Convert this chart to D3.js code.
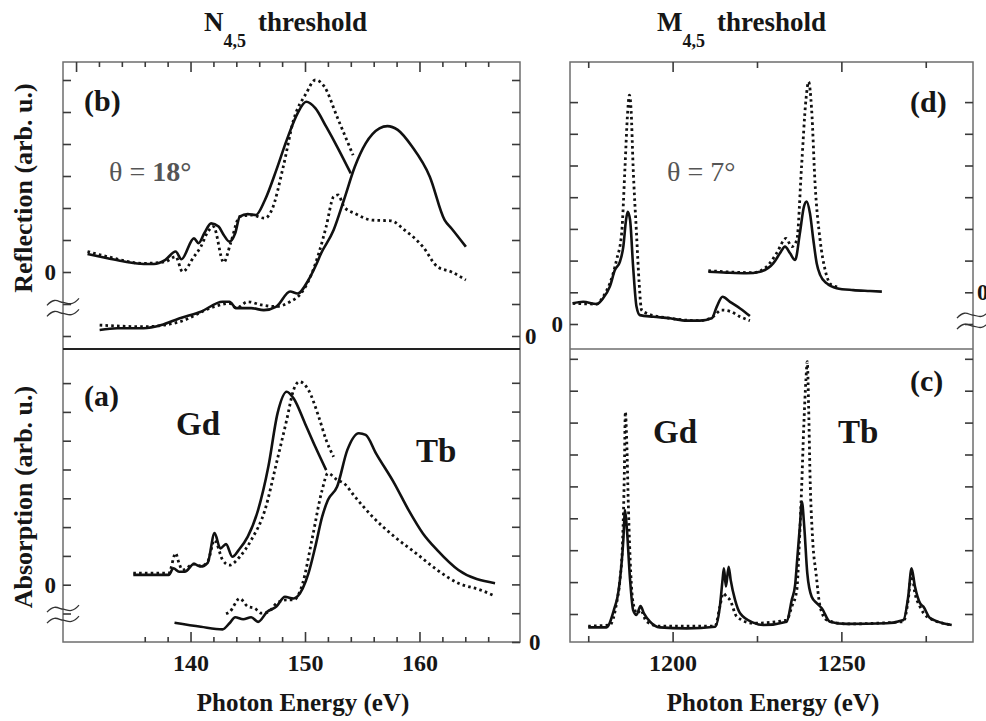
<!DOCTYPE html>
<meta charset="utf-8">
<style>
  body { margin: 0; background: #fff; }
  svg text { font-family: "Liberation Serif", "Times New Roman", serif; font-weight: bold; fill: #161616; }
  .frame { fill: none; stroke: #6e6e6e; stroke-width: 1.5; }
  .axis path { display: none; }
  .axis line { stroke: #3a3a3a; stroke-width: 1.6; }
  .axis text { font-size: 23px; }
  .xlab text { font-size: 24px; }
  .solid { fill: none; stroke: #111; stroke-width: 2.6; stroke-linejoin: round; }
  .dotted { fill: none; stroke: #111; stroke-width: 2.8; stroke-dasharray: 2.6 3.2; }
  .wave { fill: none; stroke: #333; stroke-width: 1.3; }
</style>

<body>
  <!-- load the d3.js library -->
  <script src="https://d3js.org/d3.v7.min.js"></script>
  <script>

    // ---- data: [photon energy (eV), intensity (arb. u.)] ----

    // (b) reflection, N4,5 edge, Gd on left axis, Tb on right axis
    var bGdSolid = [[131.0,0.56],[132.75,0.43],[134.3,0.32],[135.9,0.25],[136.8,0.25],[137.8,0.38],[138.7,0.64],[139.2,0.40],[140.3,1.05],[140.7,0.90],[141.2,1.21],[141.8,1.52],[142.45,1.42],[142.9,1.16],[143.4,0.95],[143.9,1.21],[144.3,1.73],[145.0,1.81],[145.7,1.78],[146.5,2.25],[147.5,3.19],[148.4,4.12],[149.35,4.96],[150.1,5.32],[150.9,5.12],[151.85,4.54],[152.8,3.92],[154.0,3.08]];
    var bGdDotted = [[131.0,0.64],[132.75,0.48],[135.9,0.27],[137.8,0.32],[138.7,0.48],[139.3,0.01],[140.3,0.48],[140.9,0.79],[141.5,1.25],[142.0,1.42],[142.9,0.30],[143.5,0.90],[144.3,1.73],[145.3,1.78],[146.5,1.68],[147.1,1.94],[148.1,3.29],[149.0,4.75],[150.1,5.58],[150.9,6.0],[151.7,5.79],[152.8,4.85],[154.2,3.65]];
    var bTbSolid = [[132.06,0.19],[133.6,0.24],[135.9,0.24],[137.45,0.34],[139.0,0.55],[140.9,0.76],[142.8,1.07],[143.4,1.07],[144.0,0.87],[145.3,0.87],[146.4,0.81],[147.5,0.92],[148.7,1.39],[149.35,1.33],[150.3,1.75],[150.9,2.17],[151.4,2.58],[152.5,3.31],[153.4,4.25],[154.35,5.29],[155.3,6.02],[156.5,6.49],[157.2,6.56],[158.1,6.44],[159.35,5.92],[160.9,4.98],[162.2,3.62],[162.8,3.36],[164.05,2.79]];
    var bTbDotted = [[132.06,0.34],[135.9,0.29],[139.0,0.44],[142.1,0.92],[143.4,1.02],[144.0,0.87],[145.0,1.07],[146.2,0.97],[147.5,0.92],[148.7,1.07],[149.65,1.33],[150.6,1.96],[151.2,2.58],[151.85,3.42],[152.5,4.35],[152.9,4.41],[153.4,4.04],[154.35,3.83],[155.9,3.62],[157.5,3.6],[158.7,3.31],[160.3,2.79],[161.55,2.17],[162.8,2.0],[164.05,1.75]];

    // (a) absorption, N4,5 edge
    var aGdSolid = [[135.0,0.34],[138.1,0.34],[138.5,0.57],[139.0,0.45],[139.5,0.45],[140.3,0.72],[140.9,0.63],[141.5,0.76],[142.1,1.79],[142.6,1.26],[143.1,1.41],[143.65,0.97],[144.2,1.2],[145.0,1.67],[145.9,2.59],[146.8,4.1],[147.6,5.95],[148.4,6.7],[149.0,6.47],[150.0,5.6],[150.9,4.79],[151.85,3.98]];
    var aGdDotted = [[135.0,0.40],[138.1,0.40],[138.7,1.09],[139.0,0.74],[139.3,0.51],[140.3,0.72],[140.9,0.65],[141.5,0.80],[142.1,1.55],[142.8,0.86],[143.4,0.68],[144.3,0.97],[145.3,1.55],[146.5,2.59],[147.5,4.21],[148.4,5.72],[149.0,6.76],[149.5,7.05],[150.3,6.76],[151.2,5.83],[151.85,5.02],[152.5,4.44]];
    var aTbSolid = [[138.6,0.67],[140.9,0.53],[142.8,0.44],[143.4,0.65],[143.9,0.86],[144.6,0.79],[145.3,0.86],[145.9,0.70],[146.7,1.05],[147.5,1.23],[148.25,1.57],[149.0,1.51],[149.8,1.86],[150.3,2.38],[150.9,3.31],[151.5,4.35],[152.0,4.93],[152.8,5.39],[153.7,6.67],[154.7,7.25],[155.3,7.19],[156.2,6.55],[157.8,5.51],[159.05,4.58],[160.3,3.77],[161.55,3.19],[163.4,2.5],[166.6,2.04]];
    var aTbDotted = [[143.1,0.98],[143.4,1.04],[144.3,1.51],[145.0,1.23],[145.6,1.17],[146.2,1.0],[146.8,1.04],[147.5,1.34],[148.4,1.46],[149.0,1.46],[149.8,2.04],[150.6,3.54],[151.5,5.28],[152.0,5.86],[152.8,5.63],[153.4,5.51],[154.35,5.05],[155.9,4.35],[157.8,3.66],[159.7,3.08],[161.55,2.5],[163.4,2.04],[165.3,1.81],[166.4,1.63]];

    // (d) reflection, M4,5 edge
    var dGdSolid = [[1170.4,0.65],[1173.5,0.70],[1177.5,0.63],[1179.4,0.81],[1181.4,1.18],[1182.9,1.70],[1184.4,1.97],[1185.4,2.44],[1186.2,3.28],[1186.7,3.54],[1187.4,3.28],[1188.3,1.81],[1189.3,0.55],[1190.3,0.28],[1194.3,0.23],[1199.2,0.18],[1204.2,0.105],[1208.1,0.105],[1211.6,0.18],[1213.1,0.55],[1214.8,0.86],[1217.0,0.70],[1220.0,0.49],[1222.9,0.25]];
    var dGdDotted = [[1170.4,0.65],[1177.5,0.63],[1179.4,0.86],[1181.4,1.28],[1183.4,2.02],[1184.9,2.86],[1185.9,4.96],[1186.6,6.54],[1187.2,7.22],[1187.7,6.75],[1188.3,4.96],[1189.3,2.86],[1190.1,1.28],[1190.8,0.44],[1192.3,0.34],[1199.2,0.18],[1208.1,0.105],[1212.0,0.23],[1214.5,0.44],[1217.0,0.40],[1220.0,0.23],[1222.9,0.105]];
    var dTbSolid = [[1210.6,0.65],[1216.0,0.62],[1221.9,0.60],[1225.9,0.65],[1229.8,0.91],[1231.8,1.23],[1233.3,1.44],[1234.8,1.23],[1236.3,1.02],[1237.7,1.86],[1238.9,2.70],[1239.7,2.86],[1240.7,2.49],[1241.7,1.65],[1242.7,0.91],[1243.7,0.55],[1245.7,0.28],[1248.6,0.13],[1253.5,0.07],[1258.5,0.04],[1262.0,0.02]];
    var dTbDotted = [[1210.6,0.68],[1223.9,0.62],[1227.9,0.81],[1230.8,1.23],[1233.6,1.70],[1235.3,1.44],[1236.8,1.65],[1238.2,3.96],[1239.5,6.07],[1240.3,6.64],[1241.2,5.75],[1242.2,3.44],[1243.7,1.65],[1245.2,0.70],[1247.1,0.23],[1249.6,0.16]];

    // (c) absorption, M4,5 edge
    var cSolid = [[1175.0,-0.42],[1180.4,-0.42],[1182.9,0.23],[1183.6,0.49],[1184.4,1.07],[1185.4,2.32],[1185.9,3.26],[1186.4,2.74],[1187.4,1.07],[1188.3,0.125],[1189.3,-0.03],[1190.5,0.25],[1191.5,0.02],[1193.3,-0.24],[1196.2,-0.42],[1204.2,-0.45],[1212.6,-0.40],[1214.0,0.23],[1214.8,1.07],[1215.2,1.43],[1215.8,0.86],[1216.6,1.48],[1217.2,1.07],[1218.5,0.44],[1220.0,0.02],[1223.9,-0.27],[1226.9,-0.345],[1233.8,-0.24],[1235.3,0.44],[1236.3,0.91],[1236.9,1.69],[1237.7,2.74],[1238.3,3.52],[1239.0,2.74],[1239.9,1.28],[1241.2,0.54],[1242.7,0.34],[1244.2,0.18],[1246.6,-0.24],[1251.6,-0.31],[1263.4,-0.29],[1268.4,-0.19],[1269.8,0.54],[1270.8,1.43],[1271.8,0.86],[1273.3,0.34],[1274.3,0.23],[1276.3,-0.13],[1282.7,-0.345]];
    var cDotted = [[1175.0,-0.38],[1181.4,-0.345],[1183.4,0.34],[1184.4,1.07],[1185.2,2.32],[1185.7,4.41],[1186.0,6.34],[1186.4,5.45],[1186.9,3.36],[1187.6,1.28],[1188.3,0.34],[1189.5,0.02],[1190.5,0.125],[1192.3,-0.24],[1196.2,-0.38],[1212.6,-0.38],[1214.0,0.23],[1215.0,0.65],[1216.0,0.54],[1217.0,0.44],[1219.0,-0.08],[1223.9,-0.29],[1233.8,-0.19],[1235.3,0.23],[1236.8,0.75],[1237.5,2.11],[1238.2,3.89],[1238.9,5.98],[1239.5,7.34],[1239.9,7.91],[1240.3,6.5],[1240.7,4.41],[1241.5,2.32],[1242.5,1.27],[1243.7,0.23],[1245.7,-0.19],[1251.6,-0.31],[1268.4,-0.24],[1269.8,0.44],[1270.8,1.28],[1271.8,0.65],[1273.3,0.23],[1275.3,-0.08],[1282.7,-0.345]];

    // ticks
    var nMinorBottom = [136,138,142,144,146,148,152,154,156,158,162,164,166];
    var nMinorTop = [132,134,136,138,142,144,146,148,152,154,156,158,162,164,166];
    var nMajorBottom = [140,150,160];
    var nMajorTop = [130,140,150,160];
    var mMinor = [1175,1225,1275];
    var mMajor = [1200,1250];

    // ---- layout ----
    var W = 986, H = 721;
    var yTop = 62, yMid = 349, yBot = 642;
    var nLeft = 63, nRight = 520, mLeft = 570, mRight = 973;

    var svg = d3.select("body").append("svg")
      .attr("width", W)
      .attr("height", H);

    // x scales
    var xN = d3.scaleLinear().domain([128.86, 168.78]).range([nLeft, nRight]);
    var xM = d3.scaleLinear().domain([1169.6, 1289.0]).range([mLeft, mRight]);

    // y scale with its zero at pixel zeroPx and `unit` pixels per tick
    function yScale(zeroPx, unit, y0, y1) {
      return d3.scaleLinear()
        .domain([(zeroPx - y0) / unit, (zeroPx - y1) / unit])
        .range([y0, y1]);
    }
    var yBgd = yScale(272, 32, yMid, yTop);
    var yBtb = yScale(336, 32, yMid, yTop);
    var yAgd = yScale(584.7, 28.8, yBot, yMid);
    var yAtb = yScale(642, 28.8, yBot, yMid);
    var yDgd = yScale(324, 31.7, yMid, yTop);
    var yDtb = yScale(292.3, 31.7, yMid, yTop);
    var yC = yScale(614, 31.9, yBot, yMid);

    // frames
    svg.append("rect").attr("class", "frame")
      .attr("x", nLeft).attr("y", yTop).attr("width", nRight - nLeft).attr("height", yBot - yTop);
    svg.append("rect").attr("class", "frame")
      .attr("x", mLeft).attr("y", yTop).attr("width", mRight - mLeft).attr("height", yBot - yTop);
    svg.append("line").attr("x1", nLeft).attr("x2", nRight).attr("y1", yMid).attr("y2", yMid)
      .attr("stroke", "#222").attr("stroke-width", 2.2);
    svg.append("line").attr("x1", mLeft).attr("x2", mRight).attr("y1", yMid).attr("y2", yMid)
      .attr("stroke", "#6e6e6e").attr("stroke-width", 1.5);

    // y axes: inward ticks, only the zero labelled
    function yAxis(scale, side, x, ticks, pad, showZero) {
      var ax = (side === "left" ? d3.axisLeft(scale) : d3.axisRight(scale))
        .tickValues(ticks)
        .tickSizeInner(-8)
        .tickSizeOuter(0)
        .tickPadding(pad)
        .tickFormat(function (d) { return (showZero && d === 0) ? "0" : ""; });
      svg.append("g").attr("class", "axis")
        .attr("transform", "translate(" + x + ",0)")
        .call(ax);
    }
    yAxis(yBgd, "left", nLeft, d3.range(-2, 7), 7, true);
    yAxis(yBtb, "right", nRight, d3.range(0, 9), 5, true);
    yAxis(yAgd, "left", nLeft, d3.range(-1, 8), 7, true);
    yAxis(yAtb, "right", nRight, d3.range(0, 10), 9, true);
    yAxis(yDgd, "left", mLeft, d3.range(0, 8), 7, true);
    yAxis(yDtb, "right", mRight, d3.range(-1, 7), 4, true);
    yAxis(yC, "left", mLeft, d3.range(0, 9), 7, false);
    yAxis(yC, "right", mRight, d3.range(0, 9), 7, false);

    // x axes
    function xAxis(scale, where, y, ticks, len, labels) {
      var ax = (where === "bottom" ? d3.axisBottom(scale) : d3.axisTop(scale))
        .tickValues(ticks)
        .tickSizeInner(-len)
        .tickSizeOuter(0)
        .tickPadding(12)
        .tickFormat(labels ? d3.format("d") : function () { return ""; });
      svg.append("g").attr("class", "axis xlab")
        .attr("transform", "translate(0," + y + ")")
        .call(ax);
    }
    xAxis(xN, "bottom", yBot, nMinorBottom, 5, false);
    xAxis(xN, "bottom", yBot, nMajorBottom, 10, true);
    xAxis(xN, "top", yTop, nMinorTop, 5, false);
    xAxis(xN, "top", yTop, nMajorTop, 10, false);
    xAxis(xM, "bottom", yBot, mMinor, 6, false);
    xAxis(xM, "bottom", yBot, mMajor, 10, true);
    xAxis(xM, "top", yTop, mMinor, 6, false);
    xAxis(xM, "top", yTop, mMajor, 10, false);

    // curves
    function curve(data, x, y, cls) {
      var line = d3.line()
        .x(function (d) { return x(d[0]); })
        .y(function (d) { return y(d[1]); })
        .curve(d3.curveMonotoneX);
      svg.append("path").datum(data).attr("class", cls).attr("d", line);
    }
    curve(bGdDotted, xN, yBgd, "dotted");
    curve(bGdSolid, xN, yBgd, "solid");
    curve(bTbDotted, xN, yBtb, "dotted");
    curve(bTbSolid, xN, yBtb, "solid");
    curve(aGdDotted, xN, yAgd, "dotted");
    curve(aGdSolid, xN, yAgd, "solid");
    curve(aTbDotted, xN, yAtb, "dotted");
    curve(aTbSolid, xN, yAtb, "solid");
    curve(dGdDotted, xM, yDgd, "dotted");
    curve(dGdSolid, xM, yDgd, "solid");
    curve(dTbDotted, xM, yDtb, "dotted");
    curve(dTbSolid, xM, yDtb, "solid");
    curve(cDotted, xM, yC, "dotted");
    curve(cSolid, xM, yC, "solid");

    // axis break marks
    function brk(x, y) {
      [0, 11].forEach(function (o) {
        var p = d3.path();
        p.moveTo(x - 16, y + o + 3);
        p.bezierCurveTo(x - 8, y + o - 6, x - 4, y + o, x, y + o);
        p.bezierCurveTo(x + 4, y + o, x + 8, y + o + 5, x + 16, y + o - 4);
        svg.append("path").attr("class", "wave").attr("d", p.toString());
      });
    }
    brk(nLeft, yBgd(-0.95));
    brk(nLeft, yAgd(-0.85));
    brk(mRight, yDtb(-0.72));

    // titles
    function title(x, letter, rest) {
      var t = svg.append("text").attr("x", x).attr("y", 31).style("font-size", "27px");
      t.append("tspan").text(letter);
      t.append("tspan").attr("dy", 16).style("font-size", "18px").text("4,5");
      t.append("tspan").attr("dy", -16).attr("dx", 12).text(rest);
    }
    title(204, "N", "threshold");
    title(657, "M", "threshold");

    // panel letters and element names
    function label(x, y, s, size) {
      svg.append("text").attr("x", x).attr("y", y).style("font-size", size + "px").text(s);
    }
    label(84, 111, "(b)", 30);
    label(84, 406, "(a)", 30);
    label(910, 112, "(d)", 30);
    label(910, 391, "(c)", 30);
    label(176, 435, "Gd", 33);
    label(416, 462, "Tb", 33);
    label(653, 443, "Gd", 33);
    label(838, 443, "Tb", 33);

    // incidence angles
    var th1 = svg.append("text").attr("x", 109).attr("y", 181)
      .style("font-size", "28px").style("font-weight", "normal").style("fill", "#555");
    th1.append("tspan").text("\u03b8 = ");
    th1.append("tspan").style("font-weight", "bold").text("18\u00b0");
    svg.append("text").attr("x", 667).attr("y", 181)
      .style("font-size", "28px").style("font-weight", "normal").style("fill", "#555")
      .text("\u03b8 = 7\u00b0");

    // axis titles
    svg.append("text").attr("transform", "translate(32,188) rotate(-90)")
      .attr("text-anchor", "middle").style("font-size", "26px").text("Reflection (arb. u.)");
    svg.append("text").attr("transform", "translate(32,497) rotate(-90)")
      .attr("text-anchor", "middle").style("font-size", "26px").text("Absorption (arb. u.)");
    svg.append("text").attr("x", 303).attr("y", 711)
      .attr("text-anchor", "middle").style("font-size", "25px").text("Photon Energy (eV)");
    svg.append("text").attr("x", 773).attr("y", 711)
      .attr("text-anchor", "middle").style("font-size", "25px").text("Photon Energy (eV)");

  </script>
</body>
